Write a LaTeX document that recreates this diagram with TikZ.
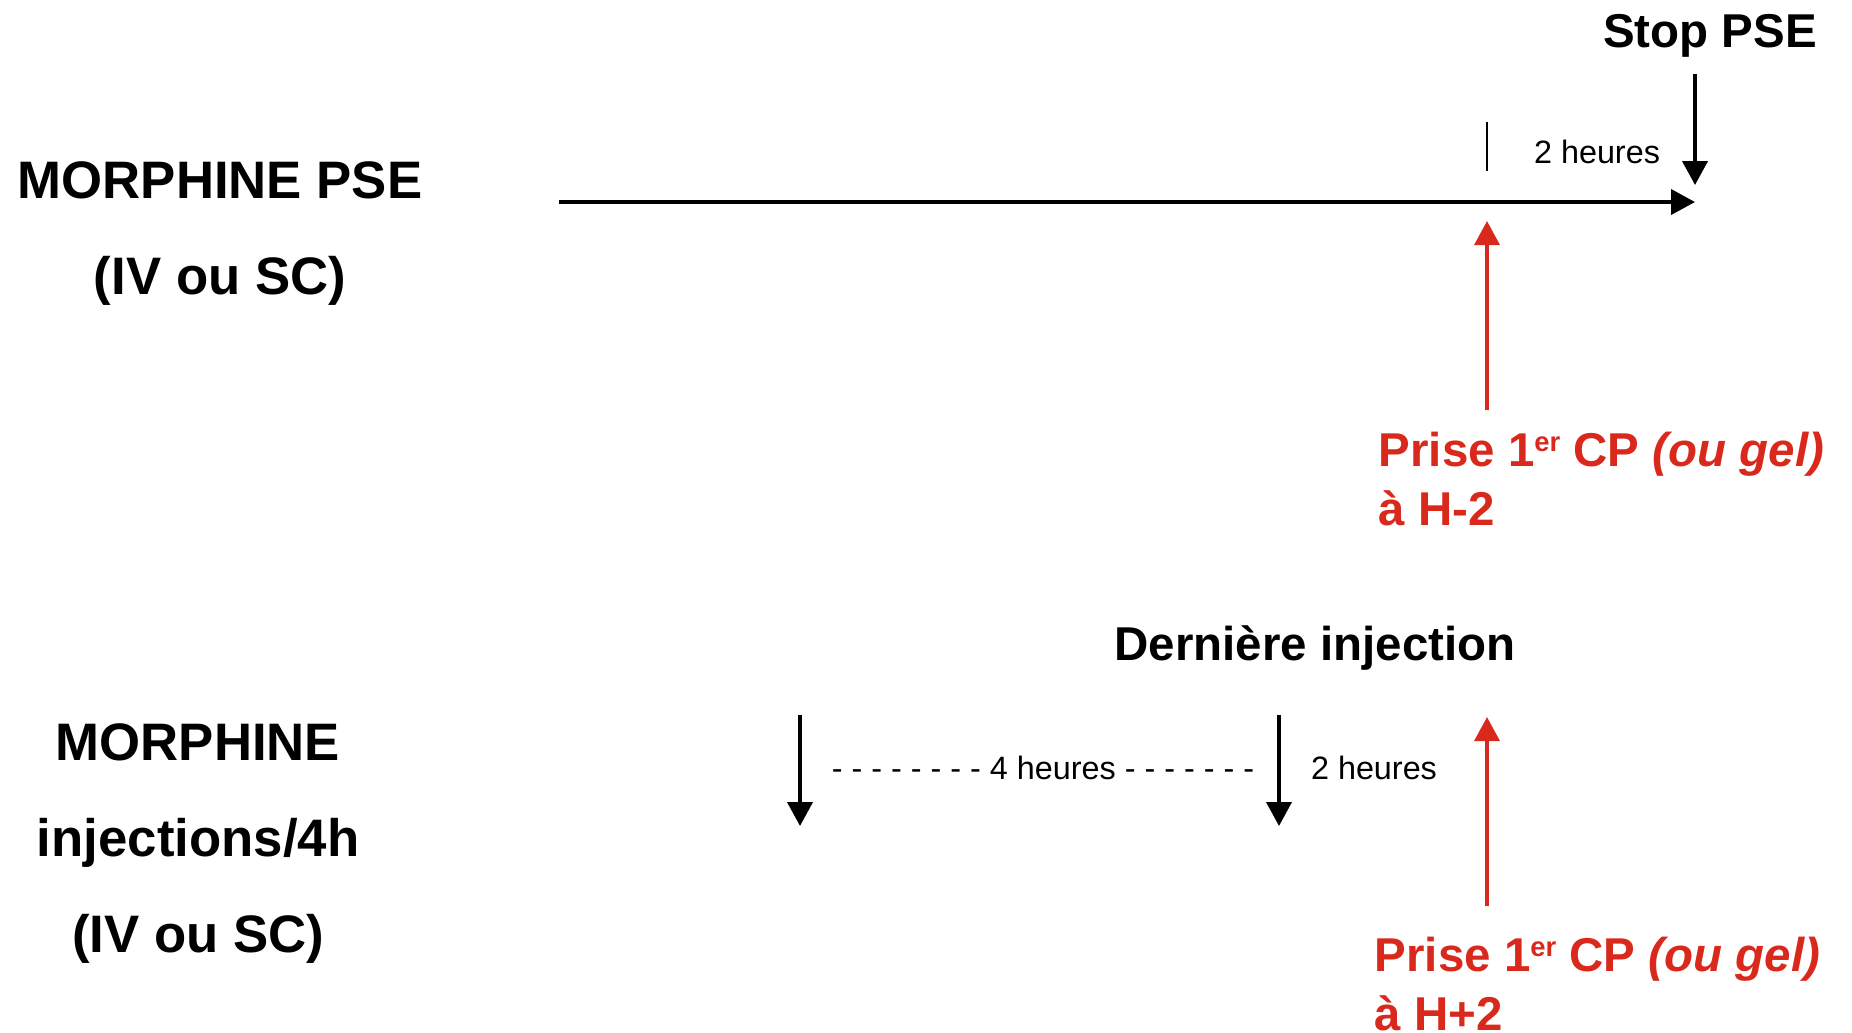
\documentclass[tikz,border=0pt]{standalone}
\usepackage{fontspec}
\setmainfont{Liberation Sans}
\usetikzlibrary{arrows.meta}
\definecolor{rouge}{RGB}{217,41,28}
\newcommand{\exposant}[1]{\raisebox{4.3pt}{\fontsize{7.8}{8}\selectfont #1}}

\begin{document}
\begin{tikzpicture}[x=0.01cm,y=-0.01cm,>={Triangle[length=0.24cm,width=0.25cm]},
  titre/.style={font=\fontsize{15}{27.3}\selectfont\bfseries,align=center,inner sep=0},
  etiq/.style={font=\fontsize{13.5}{16.5}\selectfont\bfseries,inner sep=0},
  duree/.style={font=\fontsize{9.2}{11}\selectfont,inner sep=0},
  prise/.style={etiq,text=rouge,align=left,anchor=west},
  fleche/.style={->,line width=1.1pt},
  flecherouge/.style={->,line width=1pt,draw=rouge}]
\useasboundingbox (0,0) rectangle (1852,1032);

% PSE
\node[titre] (pse) at (220,234) {MORPHINE PSE\\(IV ou SC)};
\node[etiq] (stop) at (1710,36) {Stop PSE};
\node[duree] (deuxh) at (1597,152) {2 heures};
\node[prise] (prise1) at (1378,479) {Prise 1\exposant{er} CP \textit{(ou gel)}\\à H-2};

\coordinate (debut) at (559,202);
\coordinate (fin) at (1695,202);
\coordinate (stophaut) at (1695,74);
\coordinate (stopbas) at (1695,185);
\coordinate (tickhaut) at (1487,122);
\coordinate (tickbas) at (1487,171);
\coordinate (rouge1bas) at (1487,410);
\coordinate (rouge1haut) at (1487,221);

\draw[fleche] (debut) -- (fin);
\draw[fleche] (stophaut) -- (stopbas);
\draw[line width=0.6pt] (tickhaut) -- (tickbas);
\draw[flecherouge] (rouge1bas) -- (rouge1haut);

% injections
\node[titre] (inj) at (198,844) {MORPHINE\\injections/4h\\(IV ou SC)};
\node[etiq] (derniere) at (1315,648) {Dernière injection};
\node[duree] (quatreh) at (1043,768) {- - - - - - - - 4 heures - - - - - - -};
\node[duree] (deuxh2) at (1374,768) {2 heures};
\node[prise] (prise2) at (1374,984) {Prise 1\exposant{er} CP \textit{(ou gel)}\\à H+2};

\coordinate (inj1haut) at (800,715);
\coordinate (inj1bas) at (800,826);
\coordinate (inj2haut) at (1279,715);
\coordinate (inj2bas) at (1279,826);
\coordinate (rouge2bas) at (1487,906);
\coordinate (rouge2haut) at (1487,717);

\draw[fleche] (inj1haut) -- (inj1bas);
\draw[fleche] (inj2haut) -- (inj2bas);
\draw[flecherouge] (rouge2bas) -- (rouge2haut);
\end{tikzpicture}
\end{document}
